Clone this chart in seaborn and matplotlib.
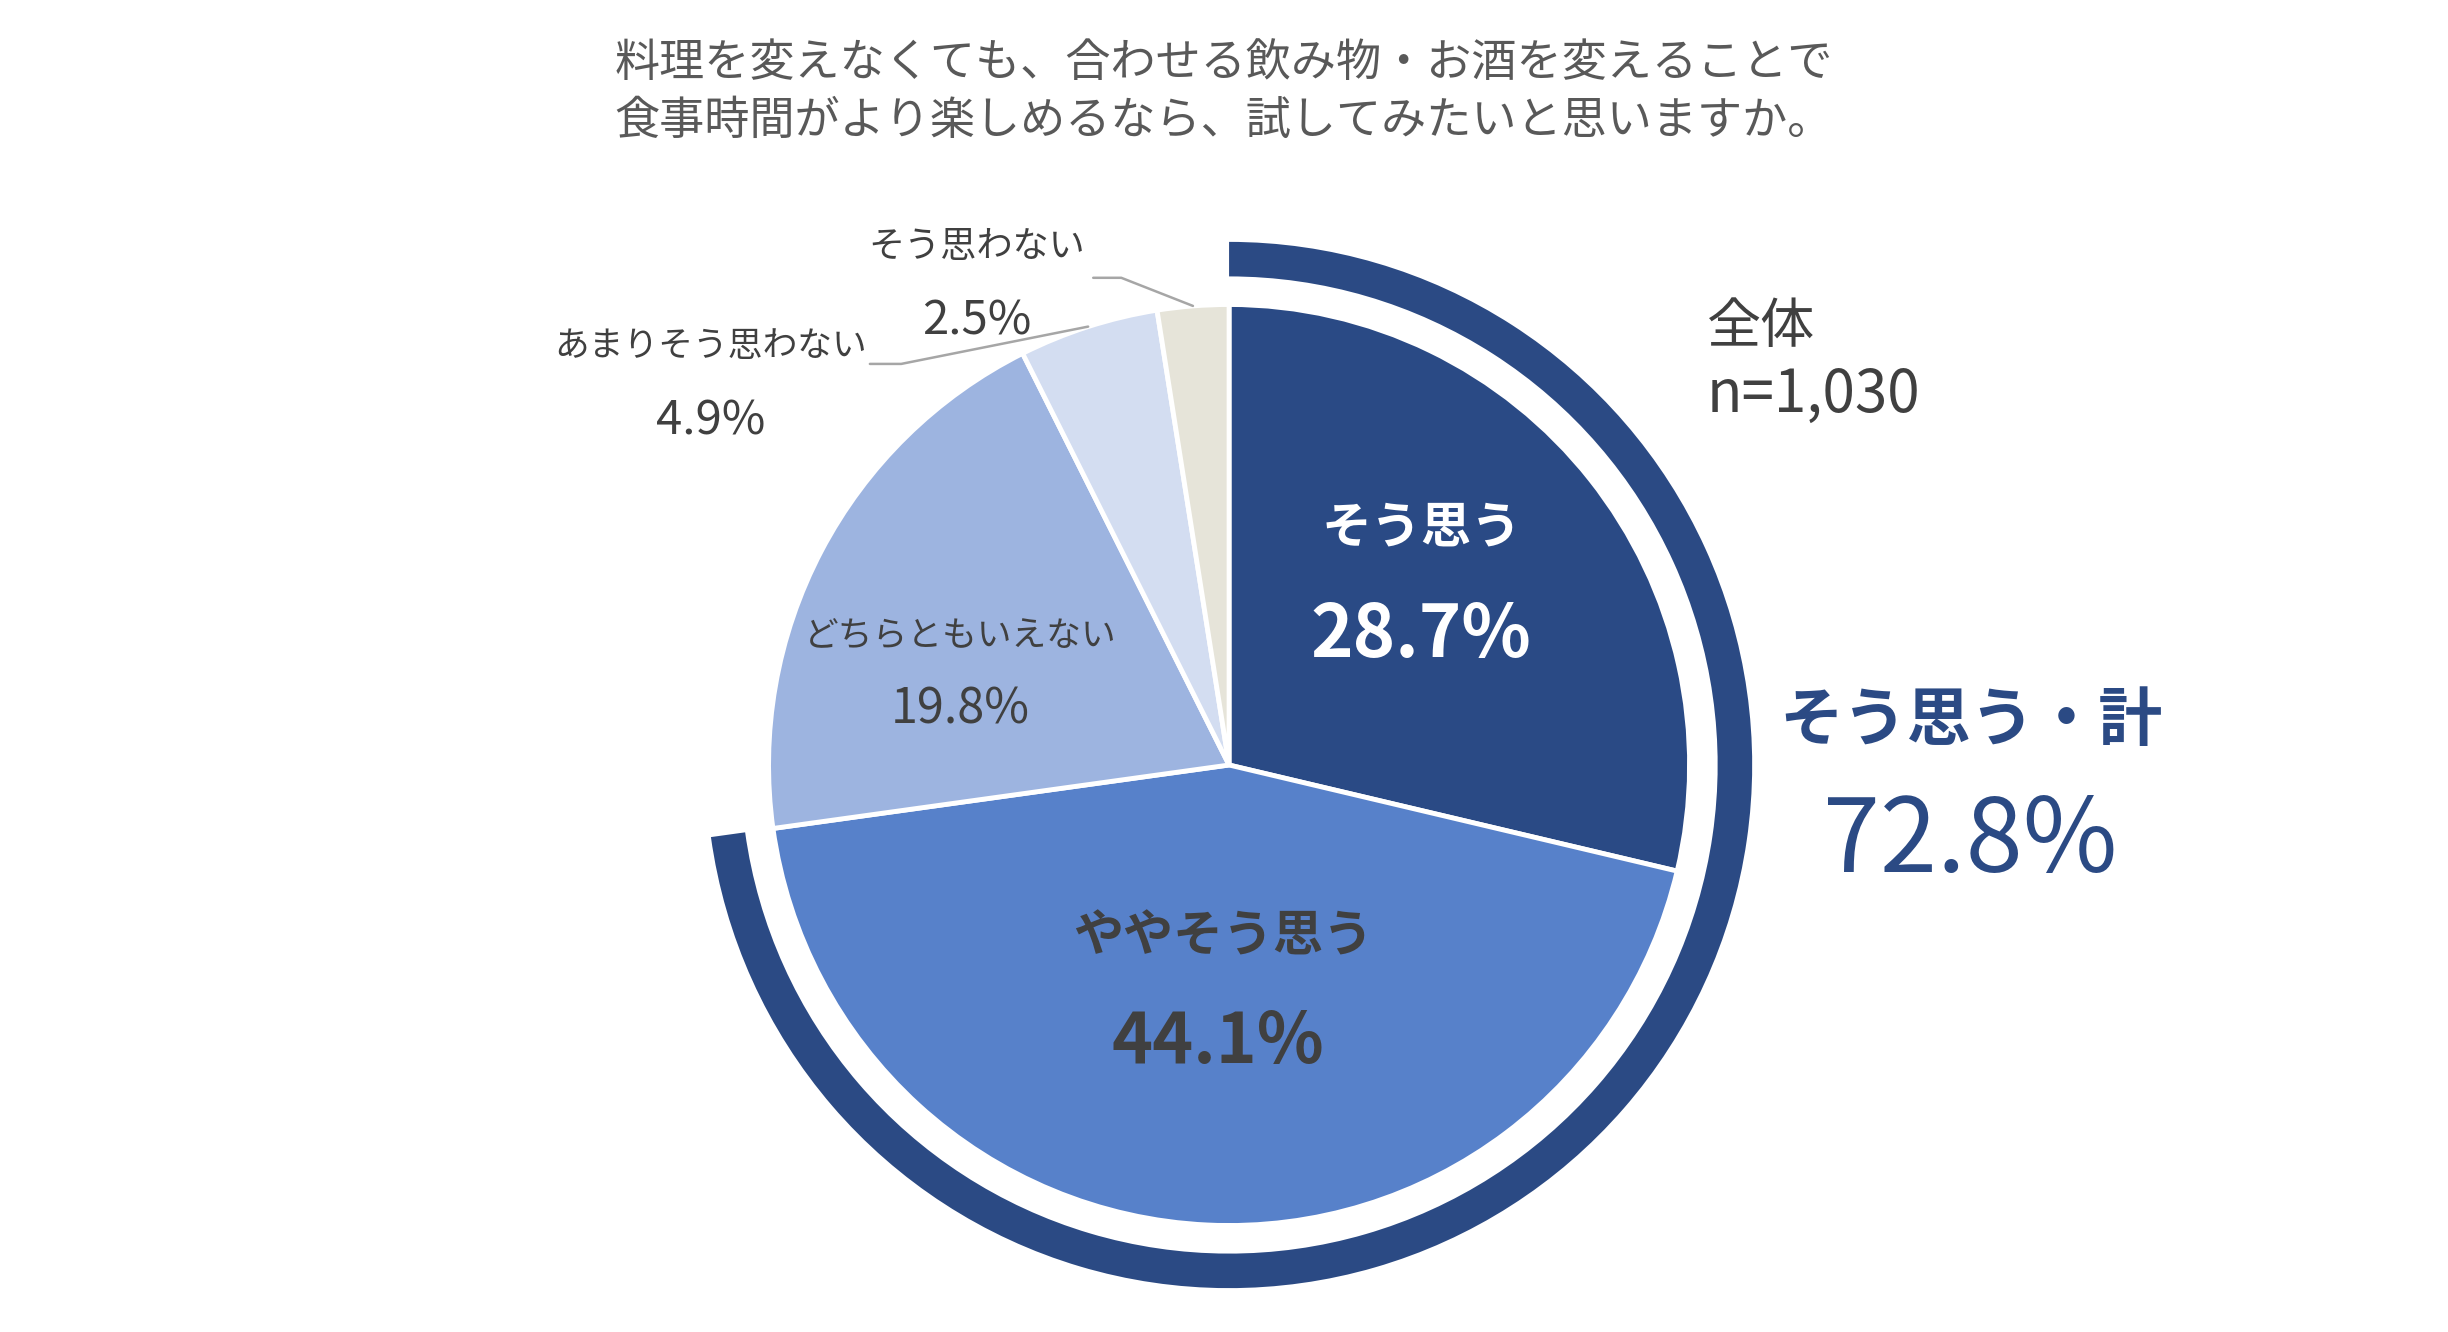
import numpy as np
import matplotlib
matplotlib.use("Agg")
import matplotlib.pyplot as plt
import seaborn as sns

sns.set_theme(style="white")
plt.rcParams["font.family"] = ["Noto Sans CJK JP", "DejaVu Sans"]

# ------------------------------------------------------------------
# data
# ------------------------------------------------------------------
title_lines = ["料理を変えなくても、合わせる飲み物・お酒を変えることで",
               "食事時間がより楽しめるなら、試してみたいと思いますか。"]
categories = ["そう思う", "ややそう思う", "どちらともいえない", "あまりそう思わない", "そう思わない"]
shares = [28.7, 44.1, 19.8, 4.9, 2.5]
colors = ["#2A4A85", "#5781CA", "#9DB4E0", "#D3DDF1", "#E6E4D9"]
sample_label = "全体"
sample_n = 1030
total_label = "そう思う・計"
n_agree = 2          # first two categories make up the "agree" total

NAVY = "#2B4A84"
DARK = "#404040"
GREY = "#595959"

# ------------------------------------------------------------------
# figure
# ------------------------------------------------------------------
fig = plt.figure(figsize=(24.48, 13.32), dpi=100)
ax = fig.add_axes([0, 0, 1, 1])

ax.pie(shares, colors=colors, startangle=90, counterclock=False, radius=1.0,
       wedgeprops=dict(edgecolor="white", linewidth=3.5))

agree_total = sum(shares[:n_agree])
ax.pie([agree_total, 100 - agree_total], colors=[NAVY, "none"], startangle=90,
       counterclock=False, radius=1.136,
       wedgeprops=dict(width=0.075, edgecolor="none", linewidth=0))

ax.set_xlim(-2.669, 2.647)
ax.set_ylim(-1.231, 1.661)
ax.set_aspect("equal")
ax.axis("off")

# mid-angle of each slice for leader lines
cum = np.cumsum([0] + shares[:-1])
mid_ang = np.deg2rad(90 - 3.6 * (cum + np.array(shares) / 2))

# inner labels
ax.text(0.417, 0.515, categories[0], color="white", fontsize=36, fontweight="bold",
        ha="center", va="center")
ax.text(0.417, 0.281, f"{shares[0]:.1f}%", color="white", fontsize=52, fontweight="bold",
        ha="center", va="center")
ax.text(-0.014, -0.373, categories[1], color=DARK, fontsize=36, fontweight="bold",
        ha="center", va="center")
ax.text(-0.024, -0.603, f"{shares[1]:.1f}%", color=DARK, fontsize=50, fontweight="bold",
        ha="center", va="center")
ax.text(-0.583, 0.278, categories[2], color=DARK, fontsize=25, ha="center", va="center")
ax.text(-0.583, 0.119, f"{shares[2]:.1f}%", color=DARK, fontsize=35, ha="center", va="center")

# outer labels with leaders
ax.text(-1.125, 0.908, categories[3], color=DARK, fontsize=25, ha="center", va="center")
ax.text(-1.125, 0.746, f"{shares[3]:.1f}%", color=DARK, fontsize=34, ha="center", va="center")
ax.plot([-0.780, -0.712, np.cos(mid_ang[3])], [0.871, 0.871, np.sin(mid_ang[3])],
        color="#A6A6A6", lw=1.8)

ax.text(-0.549, 1.125, categories[4], color=DARK, fontsize=26, ha="center", va="center")
ax.text(-0.549, 0.963, f"{shares[4]:.1f}%", color=DARK, fontsize=34, ha="center", va="center")
ax.plot([-0.295, -0.234, np.cos(mid_ang[4])], [1.058, 1.058, np.sin(mid_ang[4])],
        color="#A6A6A6", lw=1.8)

# sample size
ax.text(1.037, 0.949, sample_label, color=DARK, fontsize=39, ha="left", va="center")
ax.text(1.037, 0.803, f"n={sample_n:,}", color=DARK, fontsize=42, ha="left", va="center")

# agree total
ax.text(1.610, 0.095, total_label, color=NAVY, fontsize=46, fontweight="bold",
        ha="center", va="center")
ax.text(1.610, -0.169, f"{agree_total:.1f}%", color=NAVY, fontsize=74,
        ha="center", va="center")

# title
fig.text(0.5, 0.953, title_lines[0], color=GREY, fontsize=32.5, ha="center", va="center")
fig.text(0.5, 0.909, title_lines[1], color=GREY, fontsize=32.5, ha="center", va="center")

fig.savefig("out.png", dpi=100, facecolor="white")
